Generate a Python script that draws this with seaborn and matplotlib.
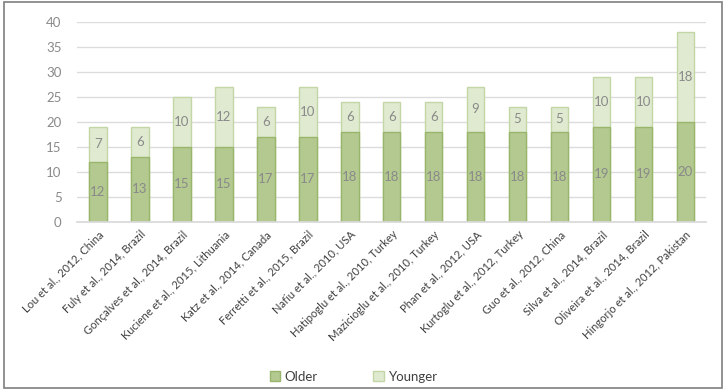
import matplotlib
matplotlib.use("Agg")
import matplotlib.pyplot as plt
import seaborn as sns
import pandas as pd
from matplotlib.patches import Rectangle, Patch

studies = ["Lou et al., 2012, China", "Fuly et al., 2014, Brazil", "Gonçalves et al., 2014, Brazil",
           "Kuciene et al., 2015, Lithuania", "Katz et al., 2014, Canada", "Ferretti et al., 2015, Brazil",
           "Nafiu et al., 2010, USA", "Hatipoglu et al., 2010, Turkey", "Mazicioglu et al., 2010, Turkey",
           "Phan et al., 2012, USA", "Kurtoglu et al., 2012, Turkey", "Guo et al., 2012, China",
           "Silva et al., 2014, Brazil", "Oliveira et al., 2014, Brazil", "Hingorjo et al., 2012, Pakistan"]
older = [12, 13, 15, 15, 17, 17, 18, 18, 18, 18, 18, 18, 19, 19, 20]
younger = [7, 6, 10, 12, 6, 10, 6, 6, 6, 9, 5, 5, 10, 10, 18]

df = pd.DataFrame({"study": studies, "Older": older, "Younger": younger})
df["Total"] = df["Older"] + df["Younger"]

sns.set_theme(style="white")
plt.rcParams['font.family'] = ['Lato', 'DejaVu Sans']

fig = plt.figure(figsize=(7.26, 3.9), dpi=100)
ax = fig.add_axes([0.106, 0.431, 0.867, 0.513])

c_old, e_old = "#b3c98f", "#99b56c"
c_young, e_young = "#e0ead0", "#c3d6a6"

sns.barplot(data=df, x="study", y="Total", color=c_young, ax=ax, width=0.42,
            edgecolor=e_young, linewidth=1, saturation=1)
sns.barplot(data=df, x="study", y="Older", color=c_old, ax=ax, width=0.42,
            edgecolor=e_old, linewidth=1, saturation=1)

txt_c = "#8a8a8a"
for i, (o, y) in enumerate(zip(older, younger)):
    ax.text(i, o / 2, str(o), ha="center", va="center", fontsize=9.5, color=txt_c)
    ax.text(i, o + y / 2, str(y), ha="center", va="center", fontsize=9.5, color=txt_c)

ax.set_ylim(0, 40)
ax.set_xlim(-0.5, len(studies) - 0.5)
ax.set_yticks(range(0, 41, 5))
ax.yaxis.grid(True, color="#dcdcdc", linewidth=1)
ax.set_axisbelow(True)
for s in ["top", "right", "left"]:
    ax.spines[s].set_visible(False)
ax.spines["bottom"].set_color("#d9d9d9")
ax.set_xlabel("")
ax.set_ylabel("")
ax.tick_params(axis="y", colors="#8a8a8a", labelsize=9.5, length=0, pad=11)
ax.tick_params(axis="x", length=0, pad=5)
ax.set_xticks(range(len(studies)))
ax.set_xticklabels(studies, rotation=45, ha="right", rotation_mode="anchor",
                   fontsize=8, color="#404040")

handles = [Patch(facecolor=c_old, edgecolor=e_old, label="Older"),
           Patch(facecolor=c_young, edgecolor=e_young, label="Younger")]
fig.legend(handles=handles, loc="center", bbox_to_anchor=(0.487, 0.034), ncol=2,
           frameon=False, fontsize=9.5, handlelength=0.8, handleheight=0.8,
           columnspacing=4.2, handletextpad=0.35, labelcolor="#404040")

fig.patches.append(Rectangle((0.005, 0.005), 0.99, 0.99, transform=fig.transFigure,
                             fill=False, edgecolor="#7f7f7f", linewidth=1.2))

fig.savefig("out.png", dpi=100)
